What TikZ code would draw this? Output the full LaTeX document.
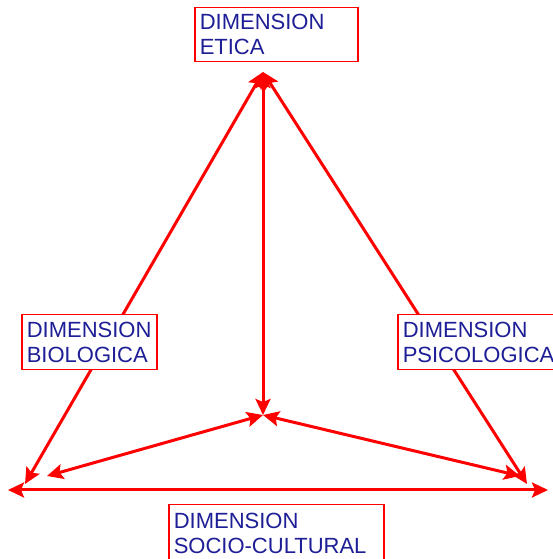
\documentclass[tikz,border=0pt]{standalone}
\usepackage{fontspec}
\setmainfont{Liberation Sans}
\usetikzlibrary{arrows.meta}
\definecolor{dimred}{RGB}{255,0,0}
\definecolor{dimblue}{RGB}{30,30,150}

\begin{document}
\begin{tikzpicture}[x=1pt,y=1pt,
    dimbox/.style={rectangle,draw=dimred,line width=1.5pt,fill=white,text=dimblue,
                   font=\fontsize{22}{25}\selectfont,align=left,anchor=north west,
                   inner xsep=5pt,inner ysep=2pt},
    arrow/.style={{Stealth[length=16pt,width=15pt,inset=3pt]}-{Stealth[length=16pt,width=15pt,inset=3pt]},
                  line width=3pt,dimred}
]
\useasboundingbox (0,0) rectangle (553,559);

% corners of the triangle
\coordinate (top)    at (263,487);
\coordinate (centre) at (263,144);
\coordinate (left)   at (8,69);
\coordinate (right)  at (548,69);
\coordinate (leftd)  at (25,75);
\coordinate (rightd) at (527,75);
\coordinate (leftc)  at (47,83);
\coordinate (rightc) at (520,83);

\draw[arrow] (top) -- (leftd);
\draw[arrow] (top) -- (rightd);
\draw[arrow] (top) -- (centre);
\draw[arrow] (centre) -- (leftc);
\draw[arrow] (centre) -- (rightc);
\draw[arrow] (left) -- (right);

% the four dimensions
\node[dimbox,text width=153pt,minimum height=54pt] (etica) at (194,552) {DIMENSION\\ETICA};
\node[dimbox,text width=125pt,minimum height=55pt] (bio)   at (21,245)  {DIMENSION\\BIOLOGICA};
\node[dimbox,text width=156pt,minimum height=55pt] (psico) at (397,245) {DIMENSION\\PSICOLOGICA};
\node[dimbox,text width=205pt,minimum height=58pt] (socio) at (168,55)  {DIMENSION\\SOCIO-CULTURAL};
\end{tikzpicture}
\end{document}
